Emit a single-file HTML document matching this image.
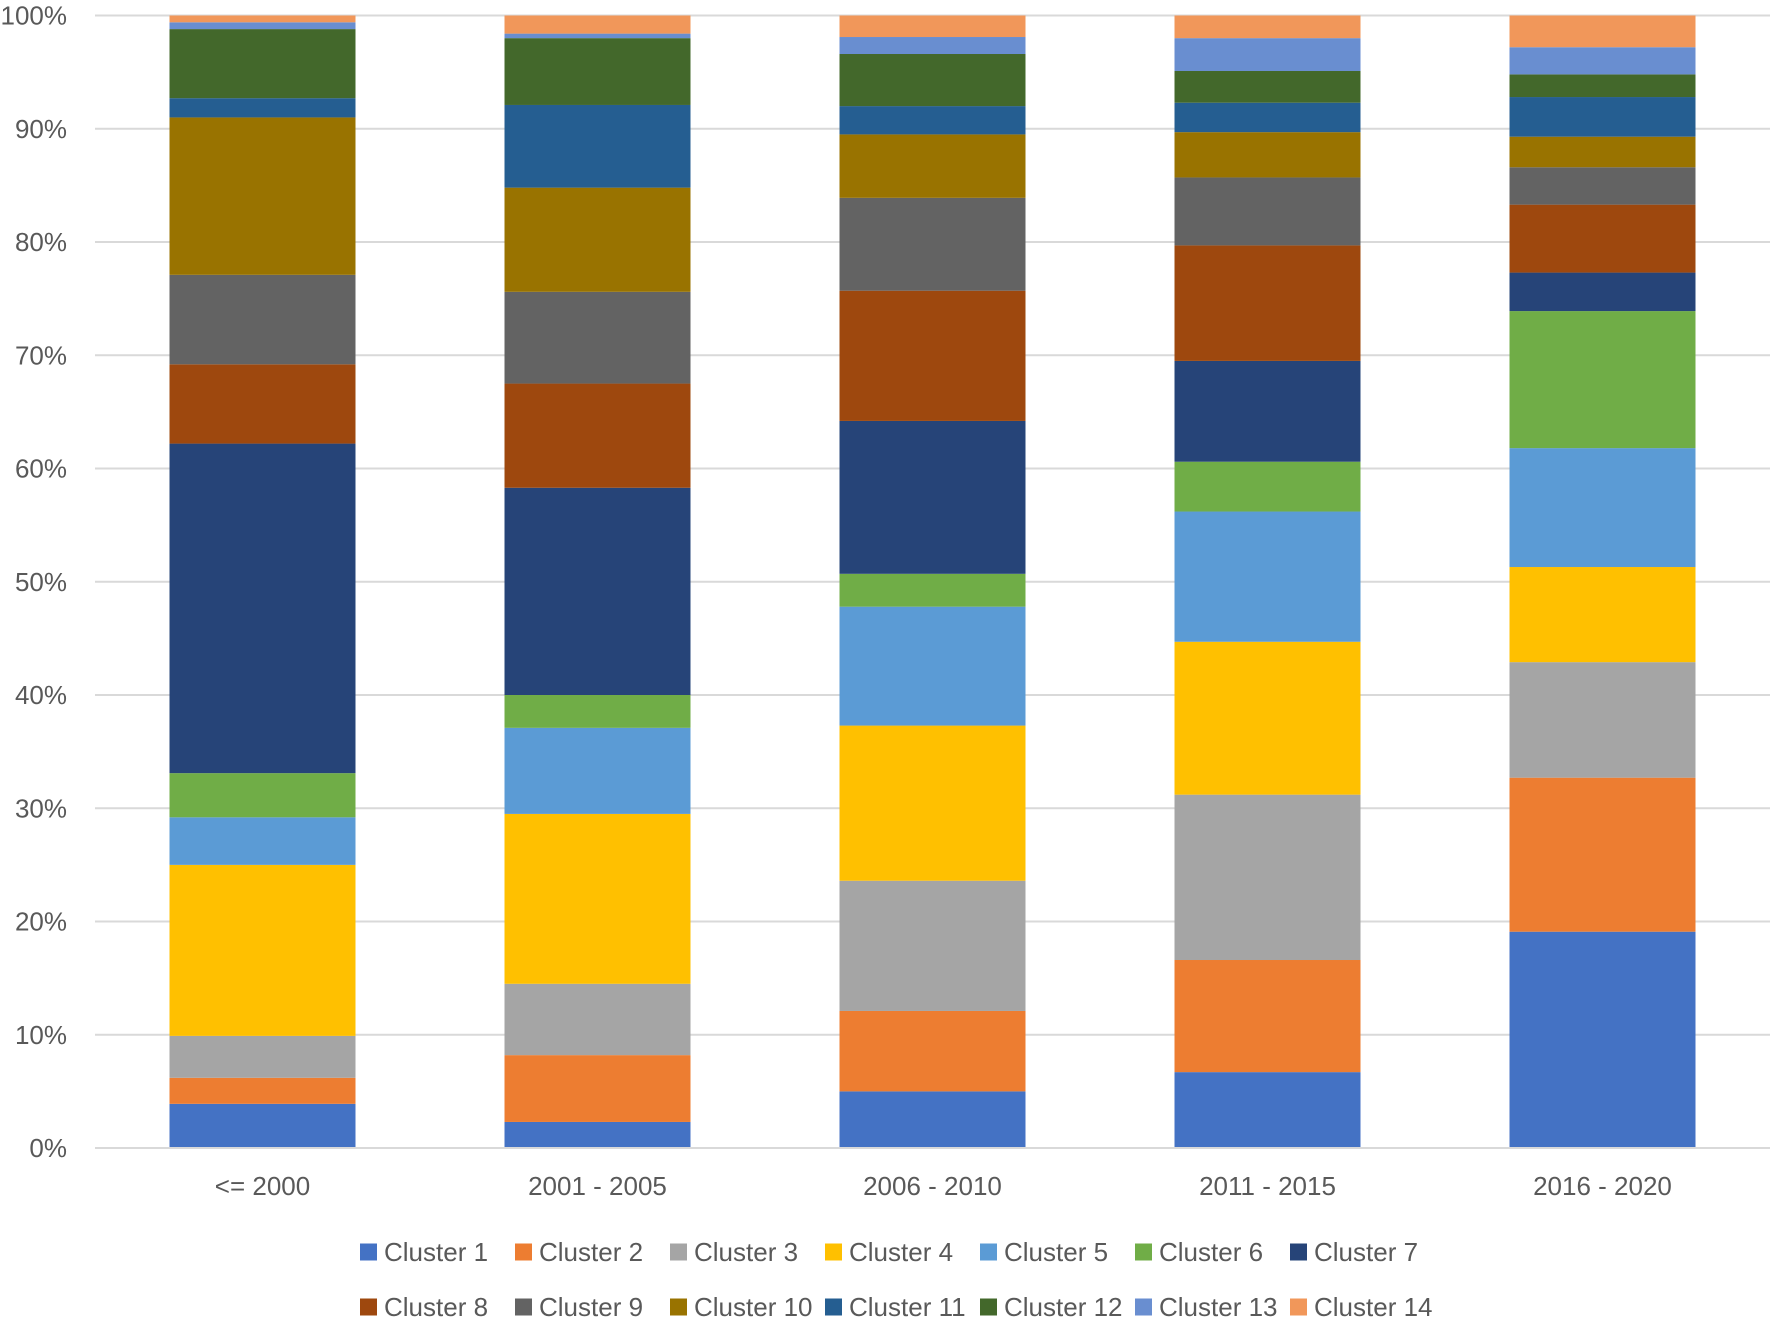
<!DOCTYPE html>
<html><head><meta charset="utf-8"><style>
html,body{margin:0;padding:0;background:#fff;}
svg{display:block;font-family:"Liberation Sans",sans-serif;}
</style></head><body>
<svg id="chart" width="1772" height="1322"></svg>
<script>
const categories=["<= 2000","2001 - 2005","2006 - 2010","2011 - 2015","2016 - 2020"];
const seriesNames=["Cluster 1","Cluster 2","Cluster 3","Cluster 4","Cluster 5","Cluster 6","Cluster 7","Cluster 8","Cluster 9","Cluster 10","Cluster 11","Cluster 12","Cluster 13","Cluster 14"];
const colors=["#4472C4","#ED7D31","#A5A5A5","#FFC000","#5B9BD5","#70AD47","#264478","#9E480E","#636363","#997300","#255E91","#43682B","#698ED0","#F1975A"];
const bar1=[3.9,2.3,3.7,15.1,4.2,3.9,29.1,7.0,7.9,13.9,1.7,6.1,0.6,0.6];
const bar2=[2.3,5.9,6.3,15.0,7.6,2.9,18.3,9.2,8.1,9.2,7.3,5.9,0.4,1.6];
const bar3=[5.0,7.1,11.5,13.7,10.5,2.9,13.5,11.5,8.2,5.6,2.5,4.6,1.5,1.9];
const bar4=[6.7,9.9,14.6,13.5,11.5,4.4,8.9,10.2,6.0,4.0,2.6,2.8,2.9,2.0];
const bar5=[19.1,13.6,10.2,8.4,10.5,12.1,3.4,6.0,3.3,2.7,3.5,2.0,2.4,2.8];
const yTicks=[0,10,20,30,40,50,60,70,80,90,100];
const bars=[bar1,bar2,bar3,bar4,bar5];
const NS="http://www.w3.org/2000/svg";
const svg=document.getElementById('chart');
const L=95,R=1770,T=15.5,B=1148;
const band=(R-L)/categories.length, bw=186;
const y=v=>B-(v/100)*(B-T);
const xc=i=>L+band*(i+0.5);
function mk(tag,attrs,parent){const e=document.createElementNS(NS,tag);for(const k in attrs)e.setAttribute(k,attrs[k]);(parent||svg).appendChild(e);return e;}
yTicks.forEach(t=>{
  const g=mk('line',{x1:L,x2:R,y1:y(t),y2:y(t),stroke:'#d9d9d9','stroke-width':2});
  
  
  const tx=mk('text',{x:67,y:y(t)+9,'text-anchor':'end','font-size':26,fill:'#595959'});
  tx.textContent=t+'%';
  
  
});
bars.forEach((vals,i)=>{
  let cum=0;
  vals.forEach((v,j)=>{
    const r=mk('rect',{x:xc(i)-bw/2,y:y(cum+v),width:bw,height:y(cum)-y(cum+v),fill:colors[j]});
    
    
    cum+=v;
  });
  const tx=mk('text',{x:xc(i),y:1195,'text-anchor':'middle','font-size':26,fill:'#595959'});
  tx.textContent=categories[i];
  
  
});
const ax=mk('line',{x1:L,x2:R,y1:B,y2:B,stroke:'#d9d9d9','stroke-width':2});


seriesNames.forEach((n,j)=>{
  const row=Math.floor(j/7),col=j%7;
  const x=360+col*155,cy=row?1307:1252;
  const g=mk('g',{});
  
  
  mk('rect',{x:x,y:cy-8.5,width:17,height:17,fill:colors[j]},g);
  const tx=mk('text',{x:x+24,y:cy+9,'font-size':26,fill:'#595959'},g);
  tx.textContent=n;
});
</script>
</body></html>
